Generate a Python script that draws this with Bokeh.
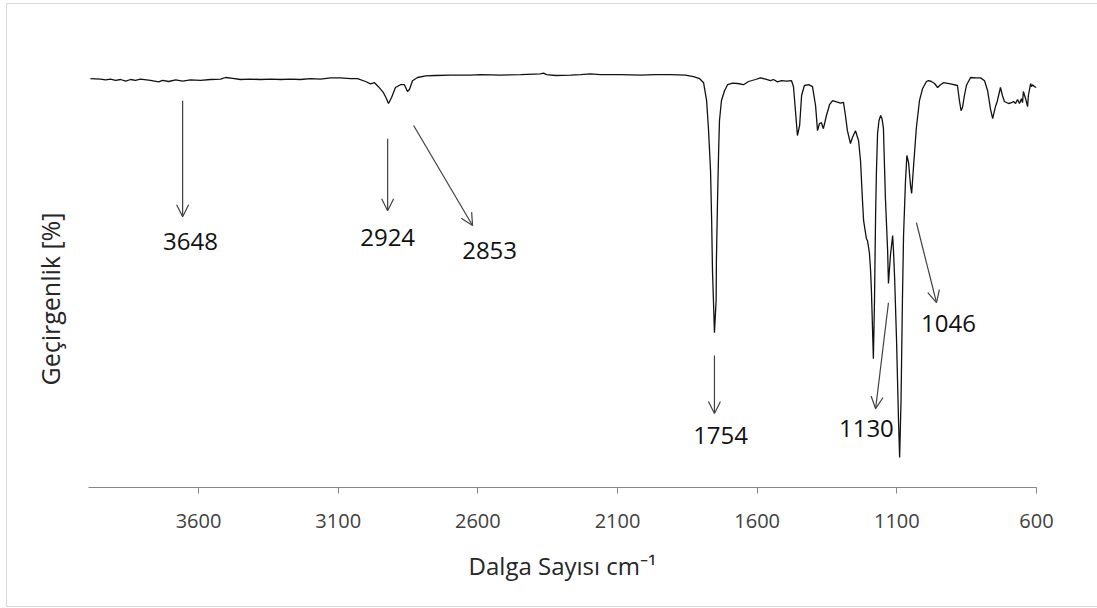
from bokeh.plotting import figure
from bokeh.models import Range1d, FixedTicker, Label, Arrow, OpenHead, ColumnDataSource, Title
from bokeh.embed import file_html
from bokeh.resources import INLINE

# FTIR spectrum: wavenumber (cm-1) and transmittance (arbitrary %)
wavenumber = [
    3987, 3951, 3933, 3915, 3897, 3879, 3861, 3843, 3826, 3808, 3772, 3743, 3729, 3707,
    3682, 3657, 3629, 3593, 3557, 3521, 3503, 3478, 3450, 3414, 3378, 3342, 3306, 3271,
    3235, 3199, 3163, 3127, 3092, 3056, 3031, 3002, 2984, 2970, 2956, 2938, 2927, 2920,
    2909, 2895, 2877, 2863, 2852, 2845, 2834, 2816, 2787, 2752, 2698, 2626, 2590, 2519,
    2447, 2376, 2365, 2354, 2322, 2268, 2232, 2197, 2161, 2089, 2018, 1964, 1910, 1857,
    1828, 1806, 1792, 1781, 1774, 1767, 1763, 1760, 1756, 1753, 1747, 1746, 1742, 1738,
    1735, 1728, 1717, 1706, 1688, 1670, 1649, 1631, 1606, 1588, 1570, 1552, 1542, 1527,
    1513, 1495, 1477, 1470, 1463, 1456, 1448, 1441, 1431, 1416, 1402, 1391, 1384, 1377,
    1370, 1363, 1352, 1341, 1330, 1316, 1302, 1291, 1284, 1277, 1266, 1259, 1248, 1237,
    1230, 1223, 1219, 1209, 1205, 1198, 1194, 1191, 1184, 1180, 1176, 1173, 1169, 1164,
    1158, 1153, 1148, 1141, 1133, 1130, 1123, 1115, 1112, 1108, 1101, 1094, 1090, 1085,
    1080, 1076, 1069, 1064, 1058, 1051, 1047, 1040, 1030, 1019, 1008, 994, 987, 976,
    965, 954, 944, 933, 908, 883, 876, 870, 865, 858, 851, 836, 818, 800,
    786, 775, 765, 757, 747, 740, 729, 722, 715, 700, 689, 682, 675, 668,
    661, 654, 650, 647, 639, 632, 629, 625, 621, 618, 614, 607, 600,
]
transmittance = [
    102.2, 102.1, 101.9, 102.1, 101.8, 102.0, 101.6, 102.0, 101.8, 102.1, 101.8, 101.4, 101.8, 101.5,
    101.9, 101.6, 101.9, 101.8, 102.0, 102.1, 102.5, 102.3, 102.0, 102.1, 102.0, 102.1, 102.0, 102.1,
    102.0, 102.2, 102.1, 102.4, 102.4, 102.2, 102.2, 101.5, 100.9, 101.2, 100.2, 98.7, 97.2, 96.0,
    97.5, 100.0, 100.7, 100.7, 99.0, 99.5, 101.7, 102.5, 102.9, 103.0, 103.1, 103.1, 103.2, 103.1,
    103.2, 103.4, 103.6, 103.2, 103.0, 103.1, 103.2, 103.4, 103.2, 103.2, 103.1, 103.2, 103.2, 103.1,
    102.7, 102.2, 101.2, 96.7, 89.2, 79.2, 66.7, 54.2, 45.5, 38.7, 46.7, 56.7, 71.7, 84.2,
    91.7, 96.7, 99.2, 100.7, 101.1, 101.0, 100.7, 101.5, 102.0, 102.4, 102.1, 101.7, 102.0, 101.4,
    101.7, 101.6, 101.7, 100.2, 94.2, 88.0, 90.5, 98.0, 100.5, 100.7, 100.2, 95.5, 89.2, 91.0,
    91.2, 89.7, 93.0, 95.7, 96.7, 96.4, 96.1, 96.3, 93.0, 89.2, 86.0, 87.5, 89.2, 86.7,
    81.7, 71.7, 66.7, 62.2, 61.7, 58.5, 54.2, 49.2, 32.2, 46.7, 68.5, 79.2, 88.5, 91.7,
    93.0, 92.2, 89.7, 72.5, 59.2, 51.0, 58.0, 63.0, 59.2, 52.5, 36.7, 16.7, 7.5, 21.7,
    46.7, 63.0, 76.7, 83.0, 81.2, 75.5, 73.5, 80.5, 90.0, 96.7, 99.7, 101.5, 101.7, 101.5,
    101.0, 100.0, 100.7, 101.2, 100.9, 100.5, 96.7, 94.2, 95.0, 98.0, 100.5, 102.5, 102.4, 102.4,
    101.7, 99.2, 94.7, 92.2, 95.2, 96.7, 100.0, 98.0, 96.5, 96.0, 96.2, 96.5, 96.0, 97.0,
    96.0, 97.2, 96.2, 99.0, 97.2, 95.2, 98.0, 99.5, 101.0, 100.2, 100.7, 100.2, 100.0,
]

tick_values = [3600, 3100, 2600, 2100, 1600, 1100, 600]

# peak annotations
peak_labels = ["3648", "2924", "2853", "1754", "1130", "1046"]
arrow_x_start = [3657, 2923, 2830, 1753, 1130, 1030]
arrow_y_start = [96.7, 87.2, 90.5, 33.0, 46.2, 66.2]
arrow_x_end = [3657, 2923, 2619, 1753, 1176, 958]
arrow_y_end = [67.7, 69.2, 65.5, 18.5, 19.7, 46.2]
label_x = [3629, 2923, 2558, 1731, 1209, 915]
label_y = [61.5, 62.5, 59.2, 13.0, 14.7, 41.0]

FONT = "Open Sans"

p = figure(
    frame_width=948, frame_height=420,
    min_border_left=81, min_border_right=61, min_border_top=63, min_border_bottom=119,
    x_range=Range1d(3994, 600), y_range=Range1d(0, 105),
    output_backend="svg", toolbar_location=None, tools="",
    styles={"border": "1px solid #d9d9d9", "margin-left": "6px", "margin-top": "3px"},
)
p.outline_line_color = None
p.background_fill_color = "white"
p.border_fill_color = "white"
p.grid.visible = False
p.yaxis.visible = False

ax = p.xaxis[0]
ax.ticker = FixedTicker(ticks=tick_values)
ax.minor_tick_line_color = None
ax.major_tick_in = 0
ax.major_tick_out = 6
ax.axis_line_color = "#868686"
ax.major_tick_line_color = "#868686"
ax.major_label_text_font = FONT
ax.major_label_text_font_size = "20px"
ax.major_label_text_color = "#404040"
ax.major_label_standoff = 20
ax.axis_label = "Dalga Sayısı cm⁻¹"
ax.axis_label_text_font = FONT
ax.axis_label_text_font_size = "24px"
ax.axis_label_text_font_style = "normal"
ax.axis_label_text_color = "#262626"
ax.axis_label_standoff = 18

src = ColumnDataSource(dict(x=wavenumber, y=transmittance))
p.line("x", "y", source=src, line_color="#111111", line_width=1.3)

for i, txt in enumerate(peak_labels):
    p.add_layout(Arrow(
        x_start=arrow_x_start[i], y_start=arrow_y_start[i],
        x_end=arrow_x_end[i], y_end=arrow_y_end[i],
        line_color="#404040", line_width=1.2,
        end=OpenHead(size=12, line_color="#404040", line_width=1.2),
    ))
    p.add_layout(Label(
        x=label_x[i], y=label_y[i], text=txt,
        text_align="center", text_baseline="middle",
        text_font=FONT, text_font_size="24px", text_color="#111111",
    ))

p.add_layout(Title(
    text="Geçirgenlik [%]", align="left", offset=102, standoff=42,
    vertical_align="middle",
    text_font=FONT, text_font_size="25px", text_font_style="normal",
    text_color="#262626",
), "left")

open("out.html", "w").write(file_html(p, INLINE))
